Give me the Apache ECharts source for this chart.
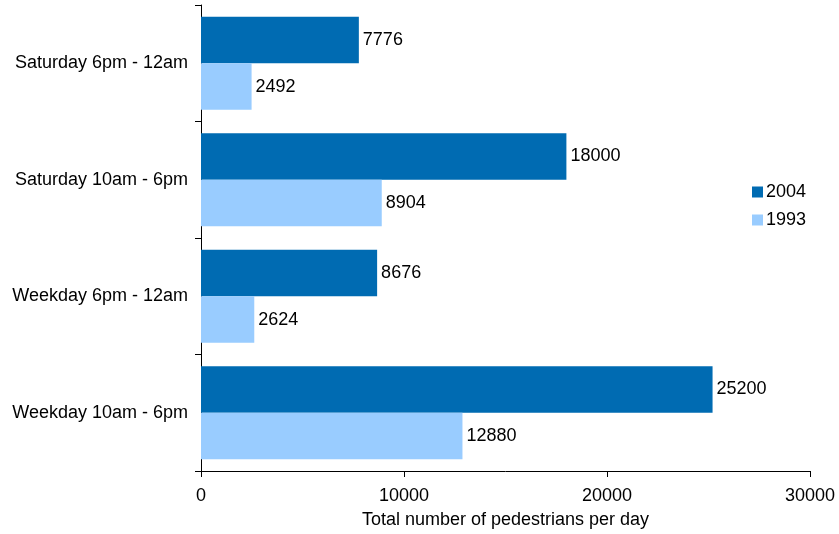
<!DOCTYPE html>
<html>
<head>
<meta charset="utf-8">
<script src="https://cdn.jsdelivr.net/npm/echarts@6/dist/echarts.min.js"></script>
<style>html,body{margin:0;padding:0;background:#fff}#c{width:839px;height:534px}</style>
</head>
<body>
<div id="c"></div>
<script>
const categories = ["Weekday 10am - 6pm", "Weekday 6pm - 12am", "Saturday 10am - 6pm", "Saturday 6pm - 12am"];
const values2004 = [25200, 8676, 18000, 7776];
const values1993 = [12880, 2624, 8904, 2492];
const xTicks = [0, 10000, 20000, 30000];

const font = "Liberation Sans, Arial, sans-serif";
const fs = 18;
const chart = echarts.init(document.getElementById('c'));
chart.setOption({
  animation: false,
  textStyle: { fontFamily: font },
  grid: { left: 201, right: 29, top: 5, bottom: 61, containLabel: false },
  legend: {
    data: ["2004", "1993"],
    orient: 'vertical',
    left: 747, top: 178,
    itemWidth: 11, itemHeight: 11, itemGap: 10,
    icon: 'rect',
    textStyle: { fontSize: fs, color: '#000', fontFamily: font, padding: [0,0,0,-2] }
  },
  xAxis: {
    type: 'value', min: xTicks[0], max: xTicks[xTicks.length-1], interval: 10000,
    name: 'Total number of pedestrians per day', nameLocation: 'middle', nameGap: 40,
    nameTextStyle: { fontSize: fs, color: '#000', fontFamily: font },
    axisLine: { show: true, lineStyle: { color: '#000', width: 1 } },
    axisTick: { show: true, length: 6, lineStyle: { color: '#000' } },
    axisLabel: { fontSize: fs, color: '#000', margin: 16, fontFamily: font, formatter: v => String(v) },
    splitLine: { show: false }
  },
  yAxis: {
    type: 'category', data: categories,
    axisLine: { show: true, lineStyle: { color: '#000', width: 1 } },
    axisTick: { show: true, length: 6, lineStyle: { color: '#000' } },
    axisLabel: { fontSize: fs, color: '#000', margin: 13, fontFamily: font }
  },
  series: [
    {
      name: '2004', type: 'bar', data: values2004,
      barGap: '0%', barCategoryGap: '20%',
      itemStyle: { color: '#006BB2' },
      label: { show: true, position: 'right', distance: 4, fontSize: fs, color: '#000', fontFamily: font, formatter: p => String(p.value) }
    },
    {
      name: '1993', type: 'bar', data: values1993,
      barGap: '0%', barCategoryGap: '20%',
      itemStyle: { color: '#99CCFF' },
      label: { show: true, position: 'right', distance: 4, fontSize: fs, color: '#000', fontFamily: font, formatter: p => String(p.value) }
    }
  ]
});
</script>
</body>
</html>
